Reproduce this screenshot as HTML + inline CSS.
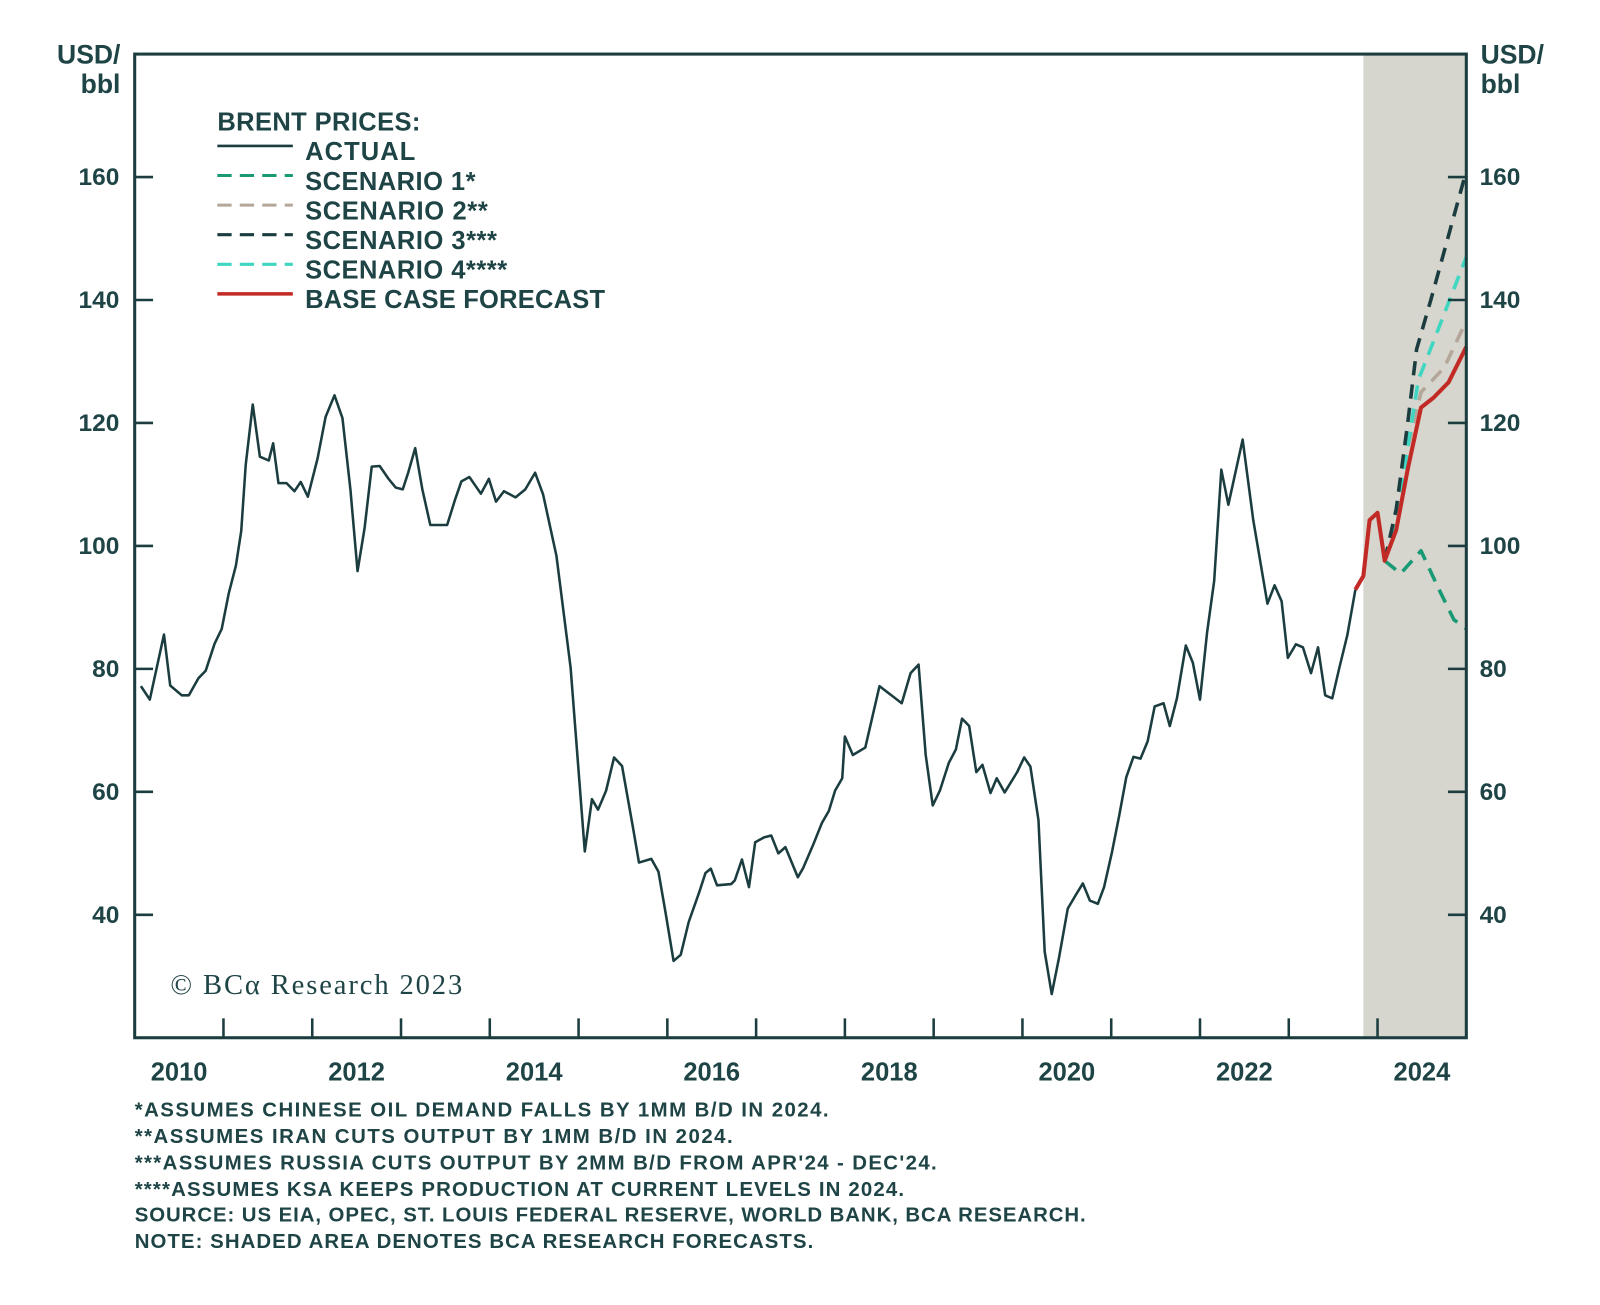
<!DOCTYPE html>
<html><head><meta charset="utf-8"><style>
html,body{margin:0;padding:0;background:#fff;}
svg{display:block;font-family:"Liberation Sans",sans-serif;}
</style></head><body>
<svg id="chart" width="1600" height="1305" viewBox="0 0 1600 1305">
<g transform="scale(1.0204)">
<rect id="shade" fill="#d6d6ce"/>
<g id="marks"></g>
<rect x="132" y="53" width="1305" height="964" fill="none" stroke="#1b3d3f" stroke-width="3"/>
<g id="axes" fill="#1f4446" font-weight="bold" font-size="24"></g>
<text x="118" y="62" text-anchor="end" font-size="26" font-weight="bold" fill="#1f4446">USD/</text>
<text x="118" y="91" text-anchor="end" font-size="26" font-weight="bold" fill="#1f4446">bbl</text>
<text x="1451" y="62" font-size="26" font-weight="bold" fill="#1f4446">USD/</text>
<text x="1451" y="91" font-size="26" font-weight="bold" fill="#1f4446">bbl</text>
<g font-size="25" font-weight="bold" fill="#1f4446">
<text x="213" y="128" textLength="199">BRENT PRICES:</text>
<line x1="213" y1="143" x2="287" y2="143" stroke="#1b3d3f" stroke-width="2.5"/>
<text x="299" y="157" textLength="108">ACTUAL</text>
<line x1="213" y1="172" x2="287" y2="172" stroke="#1a9a74" stroke-width="3" stroke-dasharray="14,8"/>
<text x="299" y="186" textLength="167">SCENARIO 1*</text>
<line x1="213" y1="201" x2="287" y2="201" stroke="#b4a698" stroke-width="3" stroke-dasharray="14,8"/>
<text x="299" y="215" textLength="179">SCENARIO 2**</text>
<line x1="213" y1="230" x2="287" y2="230" stroke="#1b3d3f" stroke-width="3" stroke-dasharray="14,8"/>
<text x="299" y="244" textLength="188">SCENARIO 3***</text>
<line x1="213" y1="259" x2="287" y2="259" stroke="#3fd6c2" stroke-width="3" stroke-dasharray="14,8"/>
<text x="299" y="273" textLength="198">SCENARIO 4****</text>
<line x1="213" y1="288" x2="287" y2="288" stroke="#c22a26" stroke-width="3.5"/>
<text x="299" y="302" textLength="294">BASE CASE FORECAST</text>
</g>
<text x="167" y="974" font-family="Liberation Serif,serif" font-size="28" fill="#1f4446" textLength="286">© BCα Research 2023</text>
<g font-size="20" font-weight="bold" fill="#1f4446">
<text x="132" y="1094" textLength="680">*ASSUMES CHINESE OIL DEMAND FALLS BY 1MM B/D IN 2024.</text>
<text x="132" y="1120" textLength="586">**ASSUMES IRAN CUTS OUTPUT BY 1MM B/D IN 2024.</text>
<text x="132" y="1146" textLength="786">***ASSUMES RUSSIA CUTS OUTPUT BY 2MM B/D FROM APR'24 - DEC'24.</text>
<text x="132" y="1172" textLength="754">****ASSUMES KSA KEEPS PRODUCTION AT CURRENT LEVELS IN 2024.</text>
<text x="132" y="1197" textLength="932">SOURCE: US EIA, OPEC, ST. LOUIS FEDERAL RESERVE, WORLD BANK, BCA RESEARCH.</text>
<text x="132" y="1223" textLength="665">NOTE: SHADED AREA DENOTES BCA RESEARCH FORECASTS.</text>
</g>
</g>
</svg>
<script>
const yTicks=[40,60,80,100,120,140,160];
const xTickLabels=[2010,2012,2014,2016,2018,2020,2022,2024];
const forecastStart=2023.84;
const actualDates=[2010.07,2010.17,2010.33,2010.40,2010.53,2010.61,2010.72,2010.80,2010.90,2010.98,2011.06,2011.14,2011.20,2011.25,2011.33,2011.41,2011.51,2011.56,2011.62,2011.71,2011.80,2011.87,2011.95,2012.06,2012.15,2012.25,2012.34,2012.43,2012.51,2012.59,2012.67,2012.76,2012.86,2012.94,2013.02,2013.08,2013.16,2013.24,2013.33,2013.52,2013.61,2013.68,2013.77,2013.90,2013.99,2014.07,2014.16,2014.29,2014.40,2014.51,2014.60,2014.75,2014.91,2015.07,2015.15,2015.22,2015.31,2015.40,2015.49,2015.61,2015.68,2015.82,2015.90,2015.98,2016.07,2016.15,2016.24,2016.36,2016.43,2016.49,2016.56,2016.72,2016.76,2016.84,2016.92,2016.99,2017.09,2017.17,2017.25,2017.33,2017.47,2017.53,2017.64,2017.74,2017.82,2017.89,2017.97,2018.00,2018.09,2018.23,2018.39,2018.64,2018.74,2018.83,2018.91,2018.99,2019.07,2019.17,2019.25,2019.32,2019.40,2019.48,2019.55,2019.64,2019.71,2019.80,2019.94,2020.02,2020.09,2020.18,2020.25,2020.33,2020.41,2020.51,2020.60,2020.68,2020.76,2020.85,2020.92,2021.01,2021.09,2021.17,2021.25,2021.33,2021.41,2021.49,2021.59,2021.66,2021.74,2021.84,2021.92,2022.00,2022.08,2022.16,2022.24,2022.32,2022.48,2022.60,2022.76,2022.84,2022.92,2022.99,2023.08,2023.16,2023.25,2023.33,2023.41,2023.49,2023.57,2023.66,2023.75];
const actualValues=[77.2,75.0,85.6,77.3,75.7,75.7,78.5,79.7,84.1,86.5,92.3,96.8,102.4,113.2,123.0,114.5,113.9,116.7,110.2,110.2,108.9,110.4,108.0,114.2,121.0,124.5,120.8,109.2,95.9,102.9,112.9,113.0,110.9,109.5,109.2,111.9,115.9,109.2,103.4,103.4,107.6,110.5,111.2,108.5,110.9,107.2,108.9,107.9,109.2,111.9,108.4,98.4,80.2,50.3,58.8,57.1,60.2,65.6,64.2,54.4,48.5,49.1,47.0,40.3,32.5,33.5,38.8,43.7,46.8,47.5,44.8,45.0,45.6,49.0,44.5,51.8,52.6,52.9,50.0,51.0,46.1,47.6,51.3,54.9,56.9,60.2,62.2,69.0,66.0,67.2,77.2,74.4,79.3,80.7,66.0,57.8,60.2,64.7,66.9,71.9,70.7,63.2,64.4,59.8,62.2,59.9,63.2,65.6,64.1,55.4,34.0,27.1,32.9,41.0,43.2,45.1,42.3,41.8,44.5,50.3,56.1,62.4,65.7,65.4,68.2,73.9,74.4,70.7,75.2,83.8,81.0,75.0,86.0,94.3,112.4,106.7,117.3,104.2,90.6,93.6,91.0,81.8,84.0,83.5,79.3,83.5,75.7,75.2,80.2,85.5,92.9];
const baseDates=[2023.75,2023.84,2023.91,2024.00,2024.08,2024.21,2024.34,2024.49,2024.63,2024.80,2025.0];
const baseValues=[92.9,95.1,104.2,105.4,97.6,102.6,112.5,122.5,124.1,126.6,132.4];
const s1Dates=[2024.08,2024.26,2024.49,2024.69,2024.86,2025.0];
const s1Values=[97.6,95.5,99.2,93.0,88.0,86.5];
const s2Dates=[2024.08,2024.21,2024.34,2024.49,2024.75,2025.0];
const s2Values=[97.6,104,116,125,129,136.6];
const s3Dates=[2024.08,2024.21,2024.34,2024.44,2024.60,2025.0];
const s3Values=[97.6,106,120,132,140,161];
const s4Dates=[2024.08,2024.21,2024.34,2024.46,2024.65,2025.0];
const s4Values=[97.6,104,116,127,134,147];

const X0=132,X1=1437,Y0=1017,Y1=53,T0=2010,T1=2025,V0=20,V1=180;
const xs=t=>X0+(t-T0)/(T1-T0)*(X1-X0);
const ys=v=>Y0-(v-V0)/(V1-V0)*(Y0-Y1);
const NS='http://www.w3.org/2000/svg';
const shade=document.getElementById('shade');
shade.setAttribute('x',xs(forecastStart));shade.setAttribute('y',Y1);
shade.setAttribute('width',X1-xs(forecastStart));shade.setAttribute('height',Y0-Y1);
const marks=document.getElementById('marks');
function line(d,v,color,w,dash,name){
  const p=document.createElementNS(NS,'path');
  p.setAttribute('d',d.map((t,i)=>(i?'L':'M')+xs(t).toFixed(1)+','+ys(v[i]).toFixed(1)).join(''));
  p.setAttribute('fill','none');p.setAttribute('stroke',color);p.setAttribute('stroke-width',w);
  p.setAttribute('stroke-linejoin','round');
  if(dash)p.setAttribute('stroke-dasharray',dash);
  
  
  marks.appendChild(p);
}
line(s1Dates,s1Values,'#1a9a74',3.5,'14,9','scenario-1-line');
line(s2Dates,s2Values,'#b4a698',3.5,'14,9','scenario-2-line');
line(s4Dates,s4Values,'#3fd6c2',3.5,'14,9','scenario-4-line');
line(s3Dates,s3Values,'#1b3d3f',3.5,'14,9','scenario-3-line');
line(actualDates,actualValues,'#1b3d3f',2.5,null,'actual-line');
line(baseDates,baseValues,'#c22a26',4,null,'base-case-line');

const axes=document.getElementById('axes');
yTicks.forEach(v=>{
  const y=ys(v);
  [[X0,X0+18],[X1-18,X1]].forEach(([a,b])=>{
    const l=document.createElementNS(NS,'line');
    l.setAttribute('x1',a);l.setAttribute('x2',b);l.setAttribute('y1',y);l.setAttribute('y2',y);
    l.setAttribute('stroke','#1b3d3f');l.setAttribute('stroke-width','2.5');
    
    
    axes.appendChild(l);
  });
  const tl=document.createElementNS(NS,'text');
  tl.setAttribute('x',117);tl.setAttribute('y',y+8);tl.setAttribute('text-anchor','end');tl.textContent=v;
  
  
  axes.appendChild(tl);
  const tr=document.createElementNS(NS,'text');
  tr.setAttribute('x',1450);tr.setAttribute('y',y+8);tr.textContent=v;
  
  
  axes.appendChild(tr);
});
for(let yr=T0+1;yr<T1;yr++){
  const l=document.createElementNS(NS,'line');
  const x=xs(yr);
  l.setAttribute('x1',x);l.setAttribute('x2',x);l.setAttribute('y1',Y0);l.setAttribute('y2',Y0-19);
  l.setAttribute('stroke','#1b3d3f');l.setAttribute('stroke-width','2.5');
  
  
  axes.appendChild(l);
}
xTickLabels.forEach(yr=>{
  const t=document.createElementNS(NS,'text');
  t.setAttribute('x',xs(yr+0.5));t.setAttribute('y',1059);t.setAttribute('text-anchor','middle');
  t.setAttribute('font-size','25');
  t.textContent=yr;
  
  
  axes.appendChild(t);
});
</script>
</body></html>
